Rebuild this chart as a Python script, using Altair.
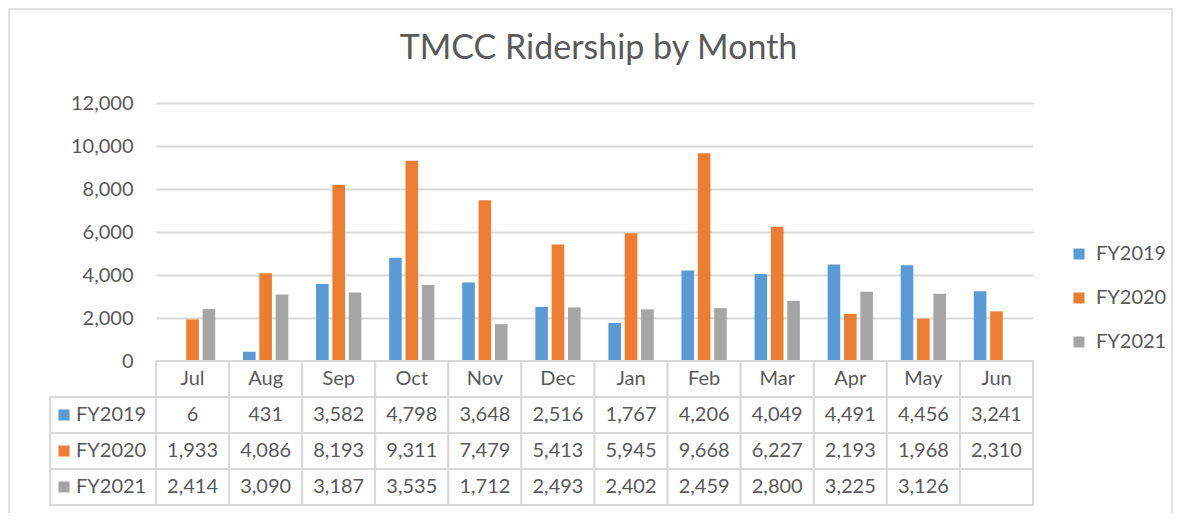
import altair as alt
import pandas as pd

months = ["Jul", "Aug", "Sep", "Oct", "Nov", "Dec", "Jan", "Feb", "Mar", "Apr", "May", "Jun"]
series = ["FY2019", "FY2020", "FY2021"]
fy2019 = [6, 431, 3582, 4798, 3648, 2516, 1767, 4206, 4049, 4491, 4456, 3241]
fy2020 = [1933, 4086, 8193, 9311, 7479, 5413, 5945, 9668, 6227, 2193, 1968, 2310]
fy2021 = [2414, 3090, 3187, 3535, 1712, 2493, 2402, 2459, 2800, 3225, 3126, None]
colors = ["#5B9BD5", "#ED7D31", "#A5A5A5"]
y_ticks = [0, 2000, 4000, 6000, 8000, 10000, 12000]

FONT = "Lato"
TXT = "#595959"
GRID = "#d9d9d9"

rows = []
for s, vals in zip(series, [fy2019, fy2020, fy2021]):
    for m, v in zip(months, vals):
        rows.append({"month": m, "series": s, "value": v,
                     "label": "" if v is None else f"{v:,}"})
df = pd.DataFrame(rows)
bars_df = df.dropna(subset=["value"])

header_df = pd.DataFrame({"month": months, "row": "Month", "label": months})
cells_df = pd.DataFrame({"month": df["month"], "row": df["series"], "label": df["label"]})
table_df = pd.concat([header_df, cells_df], ignore_index=True)
names_df = pd.DataFrame({"row": series, "series": series})

row_order = ["Month"] + series

x_enc = alt.X("month:N", sort=months,
              scale=alt.Scale(domain=months, paddingInner=0, paddingOuter=0), axis=None)
row_scale = alt.Scale(domain=row_order, range=[258, 402], paddingInner=0, paddingOuter=0)
y_row = alt.Y("row:N", sort=row_order, scale=row_scale, axis=None)
color_scale = alt.Scale(domain=series, range=colors)

border = alt.Chart(pd.DataFrame({"a": [0]})).mark_rect(
    fillOpacity=0, stroke=GRID, strokeWidth=1.5
).encode(x=alt.value(-147), x2=alt.value(1016), y=alt.value(-94), y2=alt.value(412))

bars = alt.Chart(bars_df).mark_bar().encode(
    x=x_enc,
    xOffset=alt.XOffset("series:N", sort=series,
                        scale=alt.Scale(domain=series, paddingInner=0.23, paddingOuter=0.85)),
    y=alt.Y("value:Q",
            scale=alt.Scale(domain=[0, 12000], range=[258, 0], nice=False, zero=True),
            axis=alt.Axis(values=y_ticks, format=",.0f", grid=True, gridColor=GRID, gridWidth=2,
                          domain=False, ticks=False, labelPadding=23, labelFont=FONT,
                          labelFontSize=20, labelColor=TXT, title=None)),
    color=alt.Color("series:N", scale=color_scale,
                    legend=alt.Legend(orient="none", legendX=913, legendY=141, title=None,
                                      symbolType="square", symbolSize=121,
                                      symbolStrokeWidth=0, labelFont=FONT, labelFontSize=20,
                                      labelColor=TXT, rowPadding=24, labelOffset=7, padding=0)),
)

cells = alt.Chart(table_df).mark_rect(fill="white", stroke=GRID, strokeWidth=2).encode(
    x=x_enc, y=y_row)

cell_text = alt.Chart(table_df).mark_text(font=FONT, fontSize=20, color=TXT).encode(
    x=x_enc, y=y_row, text="label:N")

name_cells = alt.Chart(names_df).mark_rect(fill="white", stroke=GRID, strokeWidth=2).encode(
    x=alt.value(-106), x2=alt.value(0), y=y_row)

name_squares = alt.Chart(names_df).mark_square(size=121, opacity=1).encode(
    x=alt.value(-92), y=y_row,
    color=alt.Color("series:N", scale=color_scale, legend=None))

name_text = alt.Chart(names_df).mark_text(font=FONT, fontSize=20, color=TXT, align="left").encode(
    x=alt.value(-80), y=y_row, text="row:N")

chart = alt.layer(
    border, bars, cells, cell_text, name_cells, name_squares, name_text
).resolve_scale(y="independent").properties(
    width=877, height=402,
    autosize=alt.AutoSizeParams(type="none"),
    padding={"left": 148, "top": 95, "right": 140, "bottom": 8},
    title=alt.TitleParams("TMCC Ridership by Month", font=FONT, fontSize=34,
                          fontWeight="normal", color=TXT, anchor="middle",
                          frame="group", dx=4, offset=-58),
).configure_view(stroke=None)

chart.save("out.html", embed_options={"renderer": "svg", "actions": False})
